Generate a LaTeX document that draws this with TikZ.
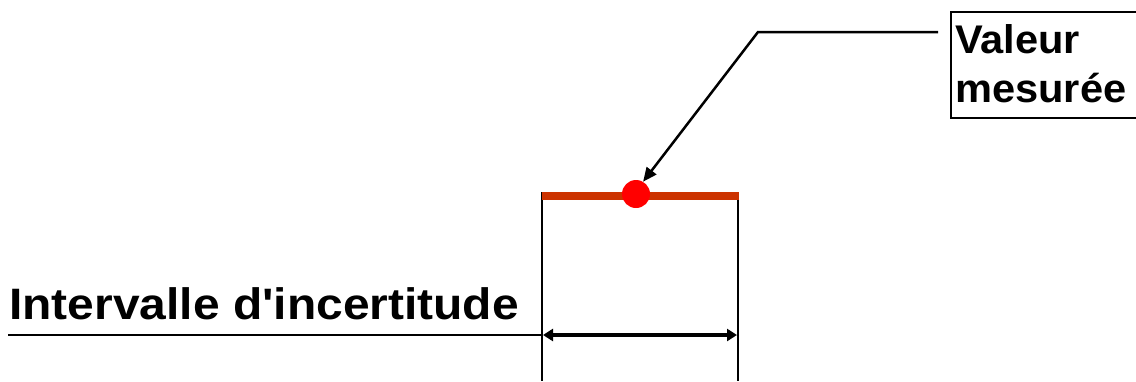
\documentclass[tikz,border=0pt]{standalone}
\usepackage{fontspec}
\setmainfont{Liberation Sans}
\usetikzlibrary{arrows.meta}
\definecolor{barred}{RGB}{204,51,0}
\definecolor{dotred}{RGB}{255,0,0}
\tikzset{
  thinline/.style={line width=1.8pt, black},
  labeltext/.style={inner sep=0pt, font=\bfseries},
}
\begin{document}
\begin{tikzpicture}[x=1pt,y=-1pt]
\useasboundingbox (0,0) rectangle (1136,381);
% boundaries
\coordinate (lt) at (542,192);
\coordinate (lb) at (542,381);
\coordinate (rt) at (738,192);
\coordinate (rb) at (738,381);
\draw[thinline] (lt) -- (lb);
\draw[thinline] (rt) -- (rb);
% interval bar
\coordinate (bl) at (542,196);
\coordinate (br) at (739,196);
\draw[barred, line width=8pt] (bl) -- (br);
% measured value dot
\node[circle, fill=dotred, minimum size=28pt, inner sep=0pt] (dot) at (636,194) {};
% double arrow
\coordinate (al) at (543,335);
\coordinate (ar) at (737,335);
\draw[line width=4.5pt, {Triangle[length=10pt,width=12pt]}-{Triangle[length=10pt,width=12pt]}] (al) -- (ar);
% left label line
\coordinate (ls) at (8,335);
\draw[thinline] (ls) -- (al);
\node[labeltext, anchor=base west, font=\bfseries\fontsize{44}{52}\selectfont] (lab) at (9,319) {\scalebox{1.09}[1]{Intervalle d\textquotesingle incertitude}};
% box (its right side runs past the picture's edge)
\node[draw, line width=1.4pt, minimum width=200pt, minimum height=106pt, inner sep=0pt] (box) at (1051,65) {};
\node[labeltext, anchor=base west, font=\bfseries\fontsize{40}{48}\selectfont] (v1) at (955,53) {\scalebox{1.04}[1]{Valeur}};
\node[labeltext, anchor=base west, font=\bfseries\fontsize{40}{48}\selectfont] (v2) at (955,102) {\scalebox{1.04}[1]{mesurée}};
% leader
\coordinate (le) at (938,32);
\coordinate (lk) at (758,32);
\draw[line width=2.5pt, -{Triangle[length=14pt,width=12pt]}] (le) -- (lk) -- (dot.60);
\end{tikzpicture}
\end{document}
